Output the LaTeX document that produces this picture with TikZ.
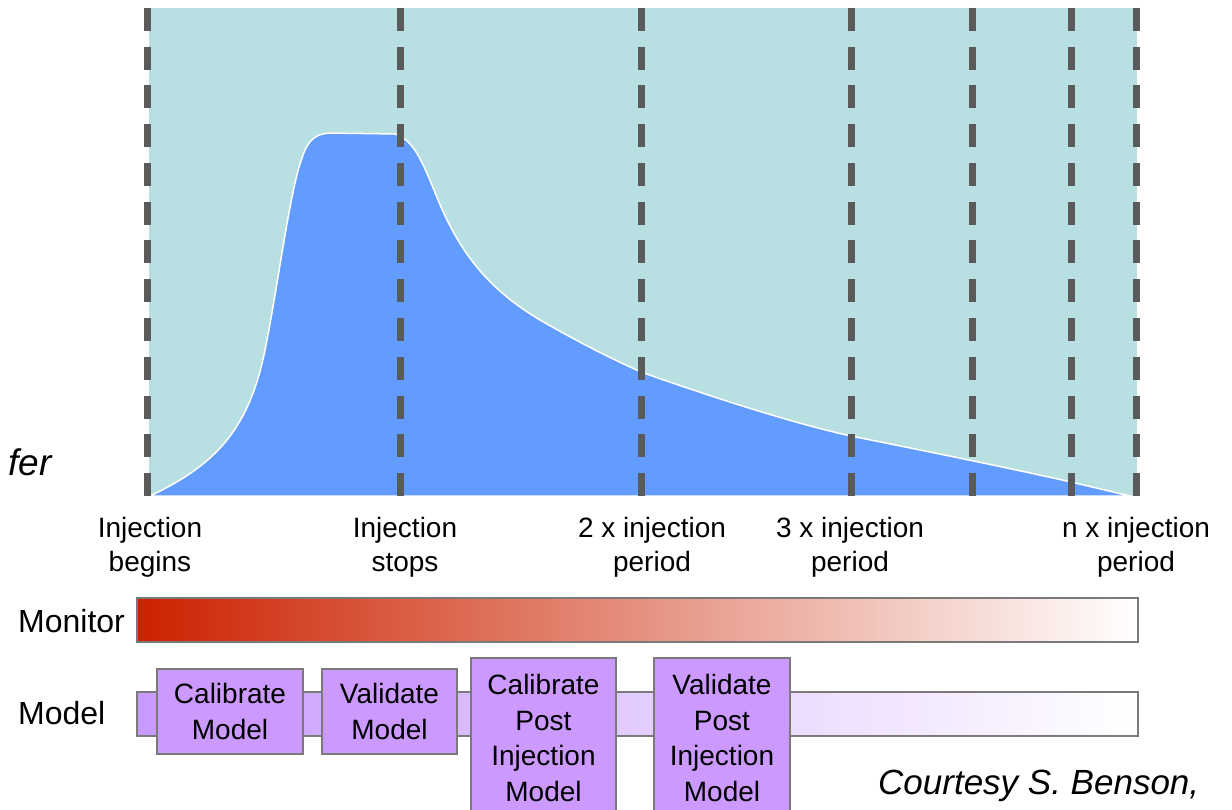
\documentclass[tikz,border=0pt]{standalone}
\usepackage{fontspec}
\setmainfont{Liberation Sans}
\definecolor{teal0}{HTML}{B8DFE2}
\definecolor{blue0}{HTML}{639CFF}
\definecolor{dashgray}{HTML}{5A5A5A}
\definecolor{monred}{HTML}{CC2200}
\definecolor{monmid}{RGB}{222,148,148}
\definecolor{modpurple}{HTML}{C899FF}
\definecolor{modmid}{RGB}{226,212,255}
\definecolor{boxpurple}{HTML}{CC99FF}
\definecolor{edgegray}{HTML}{7A7A7A}
\tikzset{
  dashline/.style={draw=dashgray, line width=7pt, dash pattern=on 23pt off 15.75pt},
  lbl/.style={anchor=north, inner sep=0pt, align=center, font=\fontsize{28}{34}\selectfont},
  side/.style={anchor=base west, inner sep=0pt, font=\fontsize{32}{38}\selectfont},
  stepbox/.style={draw=edgegray, line width=1.5pt, fill=boxpurple, align=center, inner sep=0pt,
    font=\fontsize{28}{35.5}\selectfont},
  bar/.style={draw=edgegray, line width=1.5pt}
}
\begin{document}
\begin{tikzpicture}[x=1pt,y=-1pt]
\clip (0,0) rectangle (1232,810);
\fill[white] (0,0) rectangle (1232,810);
% background
\fill[teal0] (149,8) rectangle (1137,496);
% curve
\path[fill=blue0, draw=white, line width=1.5pt]
  (150,496) .. controls (215,465) and (250,430) .. (266,345)
  .. controls (278,285) and (290,190) .. (302,158)
  .. controls (308,140) and (315,134) .. (330,133)
  -- (395,134)
  .. controls (412,140) and (420,155) .. (436,195)
  .. controls (460,255) and (490,290) .. (540,320)
  .. controls (580,343) and (610,358) .. (641,372)
  .. controls (720,400) and (800,425) .. (851,436)
  .. controls (920,450) and (1000,466) .. (1071,482)
  -- (1130,496) -- cycle;
% dashed lines
\foreach \x/\n in {147/a,400/b,641/c,851/d,972/e,1071/f,1136/g}{
  \coordinate (t\n) at (\x,8);
  \coordinate (b\n) at (\x,496);
  \draw[dashline] (t\n) -- (b\n);
}
% left cut text
\node[anchor=base east, inner sep=0pt, font=\fontsize{37}{40}\selectfont\itshape] (fer) at (52,475) {fer};
% time labels
\node[lbl] (l1) at (150,517) {Injection\\begins};
\node[lbl] (l2) at (405,517) {Injection\\stops};
\node[lbl] (l3) at (652,517) {2 x injection\\period};
\node[lbl] (l4) at (850,517) {3 x injection\\period};
\node[lbl] (l5) at (1136,517) {n x injection\\period};
% monitor
\node[side] (monlbl) at (18,632) {Monitor};
\shadedraw[bar, left color=monred, middle color=monmid, right color=white] (137,598) rectangle (1138,642);
% model
\node[side] (modlbl) at (18,724) {Model};
\shadedraw[bar, left color=modpurple, middle color=modmid, right color=white] (137,692) rectangle (1138,736);
\node[stepbox, minimum width=146pt, minimum height=85pt] (cm) at (230,711.5) {Calibrate\\Model};
\node[stepbox, minimum width=135pt, minimum height=85pt] (vm) at (389.5,711.5) {Validate\\Model};
\node[stepbox, minimum width=145pt, minimum height=160pt] (cp) at (543.5,738) {Calibrate\\Post\\Injection\\Model};
\node[stepbox, minimum width=136pt, minimum height=160pt] (vp) at (722,738) {Validate\\Post\\Injection\\Model};
% credit
\node[anchor=base west, inner sep=0pt, font=\fontsize{35}{40}\selectfont\itshape] (credit) at (878,794) {Courtesy S. Benson,};
\end{tikzpicture}
\end{document}
